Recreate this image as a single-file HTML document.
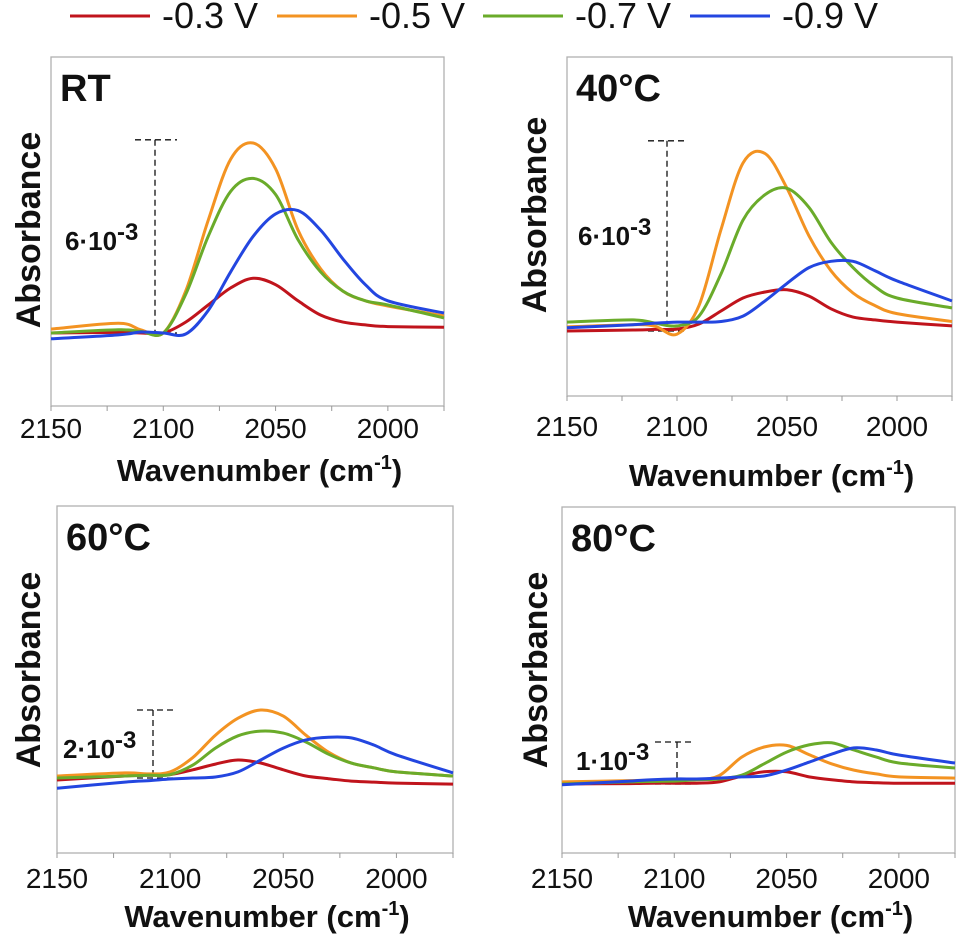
<!DOCTYPE html>
<html><head><meta charset="utf-8"><style>
body{margin:0;background:#fff;}
svg{display:block;font-family:"Liberation Sans",Arial,sans-serif;}
</style></head><body>
<svg id="chart" width="959" height="940" viewBox="0 0 959 940">
<g id="legend"></g>
<g id="panels"></g>
</svg>
<script>
// Data (absorbance in units of 1e-3, relative to baseline)
const wavenumbers = [2150,2120,2110,2100,2090,2080,2070,2060,2050,2040,2030,2020,2010,2000,1975];
const seriesNames = ["-0.3 V","-0.5 V","-0.7 V","-0.9 V"];
const xTicks = [2150,2100,2050,2000];
const rtRed    = [0,0.02,0,0,0.34,0.87,1.4,1.7,1.5,1.0,0.56,0.34,0.25,0.2,0.18];
const rtOrange = [0.12,0.3,0.1,0,1.3,3.5,5.4,5.9,5.1,3.2,2.0,1.3,1.0,0.84,0.53];
const rtGreen  = [0,0.1,0.05,0,1.2,3.0,4.4,4.8,4.3,2.9,1.9,1.3,1.0,0.87,0.47];
const rtBlue   = [-0.18,-0.06,0.03,0,-0.03,0.7,1.9,3.0,3.7,3.8,3.2,2.3,1.5,1.0,0.62];
const t40Red    = [0,0.03,0.05,0.06,0.22,0.63,1.04,1.23,1.3,1.1,0.7,0.44,0.35,0.28,0.16];
const t40Orange = [0.13,0.2,0.15,-0.1,0.8,3.2,5.3,5.6,4.5,3.0,1.9,1.2,0.8,0.55,0.3];
const t40Green  = [0.28,0.35,0.25,0.16,0.47,1.8,3.5,4.3,4.5,3.9,2.8,2.0,1.4,1.04,0.73];
const t40Blue   = [0.1,0.2,0.25,0.28,0.28,0.3,0.47,0.95,1.5,2.0,2.2,2.2,1.9,1.58,0.95];
const t60Red    = [-0.06,0.06,0.08,0.1,0.24,0.41,0.53,0.44,0.24,0.06,-0.02,-0.09,-0.12,-0.15,-0.18];
const t60Orange = [0.06,0.15,0.12,0.18,0.6,1.26,1.76,2.0,1.82,1.26,0.76,0.44,0.3,0.18,0.06];
const t60Green  = [0,0.06,0.08,0.1,0.38,0.88,1.24,1.38,1.32,1.06,0.7,0.44,0.3,0.18,0.06];
const t60Blue   = [-0.3,-0.12,-0.08,-0.03,0,0.03,0.18,0.53,0.88,1.12,1.2,1.18,0.97,0.68,0.15];
const t80Red    = [0,0.01,0.02,0.02,0.02,0.05,0.19,0.29,0.29,0.17,0.1,0.05,0.03,0.02,0.02];
const t80Orange = [0.05,0.08,0.09,0.1,0.1,0.2,0.64,0.88,0.92,0.7,0.48,0.33,0.24,0.17,0.14];
const t80Green  = [0,0.05,0.06,0.07,0.1,0.12,0.21,0.48,0.76,0.93,0.98,0.81,0.64,0.5,0.38];
const t80Blue   = [-0.02,0.07,0.1,0.12,0.12,0.14,0.17,0.19,0.33,0.52,0.71,0.86,0.81,0.69,0.5];

const colors = ["#c0141c","#f39322","#6aab2a","#2346e0"];
const NS = "http://www.w3.org/2000/svg";
function mk(tag, attrs, parent){const e=document.createElementNS(NS,tag);for(const k in attrs)e.setAttribute(k,attrs[k]);parent.appendChild(e);return e;}

const panelDefs = [
 {id:"rt",label:"RT",series:[rtRed,rtOrange,rtGreen,rtBlue],x0:51,x1:444,top:57,bottom:406,zero:333,ppu:32.2,barX:155,barUnits:6,barL:135,barR:177,barText:"6·10",tx:65,ty:250,tickY:438,titleY:481,ylx:40,yly:230},
 {id:"t40",label:"40°C",series:[t40Red,t40Orange,t40Green,t40Blue],x0:567,x1:952,top:57,bottom:396,zero:331,ppu:31.7,barX:667,barUnits:6,barL:648,barR:688,barText:"6·10",tx:578,ty:245,tickY:436,titleY:486,ylx:546,yly:215},
 {id:"t60",label:"60°C",series:[t60Red,t60Orange,t60Green,t60Blue],x0:57,x1:453,top:506,bottom:853,zero:778,ppu:34,barX:153,barUnits:2,barL:137,barR:177,barText:"2·10",tx:63,ty:758,tickY:888,titleY:927,ylx:40,yly:670},
 {id:"t80",label:"80°C",series:[t80Red,t80Orange,t80Green,t80Blue],x0:562,x1:955,top:507,bottom:853,zero:784,ppu:42,barX:677,barUnits:1,barL:655,barR:695,barText:"1·10",tx:576,ty:770,tickY:888,titleY:927,ylx:547,yly:670}
];

function pathFrom(pts){
 let d="M"+pts[0][0].toFixed(1)+","+pts[0][1].toFixed(1);
 for(let i=0;i<pts.length-1;i++){
  const p0=pts[Math.max(0,i-1)],p1=pts[i],p2=pts[i+1],p3=pts[Math.min(pts.length-1,i+2)];
  const c1x=p1[0]+(p2[0]-p0[0])/6,c1y=p1[1]+(p2[1]-p0[1])/6;
  const c2x=p2[0]-(p3[0]-p1[0])/6,c2y=p2[1]-(p3[1]-p1[1])/6;
  d+=" C"+c1x.toFixed(1)+","+c1y.toFixed(1)+" "+c2x.toFixed(1)+","+c2y.toFixed(1)+" "+p2[0].toFixed(1)+","+p2[1].toFixed(1);
 }
 return d;
}

const panelsG=document.getElementById("panels");
panelDefs.forEach(p=>{
 const g=mk("g",{},panelsG);
 
 
 const xs=w=>p.x0+(2150-w)/175*(p.x1-p.x0);
 const ys=v=>p.zero-v*p.ppu;
 const fr=mk("rect",{x:p.x0,y:p.top,width:p.x1-p.x0,height:p.bottom-p.top,fill:"none",stroke:"#b0b0b0","stroke-width":1.3},g);
 
 
 for(let w=2150;w>=1975;w-=25){
  const t=mk("line",{x1:xs(w),x2:xs(w),y1:p.bottom,y2:p.bottom+5,stroke:"#999","stroke-width":1},g);
  
  
 }
 xTicks.forEach(w=>{
  const t=mk("text",{x:xs(w),y:p.tickY,"text-anchor":"middle","font-size":28,fill:"#111"},g);
  t.textContent=w;
  
  
 });
 const xt=mk("text",{x:(p.x0+p.x1)/2+12,y:p.titleY,"text-anchor":"middle","font-size":31,"font-weight":"bold",fill:"#111"},g);
 xt.innerHTML='Wavenumber (cm<tspan dy="-12" font-size="20">-1</tspan><tspan dy="12">)</tspan>';
 
 
 const yt=mk("text",{x:p.ylx,y:p.yly,"text-anchor":"middle","font-size":34,"font-weight":"bold",fill:"#111",transform:"rotate(-90 "+p.ylx+" "+p.yly+")"},g);
 yt.textContent="Absorbance";
 
 
 const pl=mk("text",{x:p.x0+9,y:p.top+44,"font-size":38,"font-weight":"bold",fill:"#111"},g);
 pl.textContent=p.label;
 
 
 const bt=ys(p.barUnits), bb=p.zero;
 const sb=mk("g",{stroke:"#111","stroke-width":1.3,"stroke-dasharray":"6,4",fill:"none"},g);
 
 
 mk("line",{x1:p.barX,x2:p.barX,y1:bt,y2:bb},sb);
 mk("line",{x1:p.barL,x2:p.barR,y1:bt,y2:bt},sb);
 mk("line",{x1:p.barL,x2:p.barR,y1:bb,y2:bb},sb);
 const st=mk("text",{x:p.tx,y:p.ty,"font-size":26,"font-weight":"bold",fill:"#111"},g);
 st.innerHTML=p.barText+'<tspan dy="-10" font-size="24">-3</tspan>';
 
 
 p.series.forEach((vals,i)=>{
  const pts=wavenumbers.map((w,k)=>[xs(w),ys(vals[k])]);
  const path=mk("path",{d:pathFrom(pts),fill:"none",stroke:colors[i],"stroke-width":3,"stroke-linejoin":"round"},g);
  
  
 });
});

const lg=document.getElementById("legend");
const legX=[70,277,483,690];
seriesNames.forEach((n,i)=>{
 const e=mk("g",{},lg);
 
 
 mk("line",{x1:legX[i],x2:legX[i]+80,y1:16,y2:16,stroke:colors[i],"stroke-width":3},e);
 const t=mk("text",{x:legX[i]+92,y:28,"font-size":36,fill:"#111"},e);
 t.textContent=n;
});
</script>
</body></html>
